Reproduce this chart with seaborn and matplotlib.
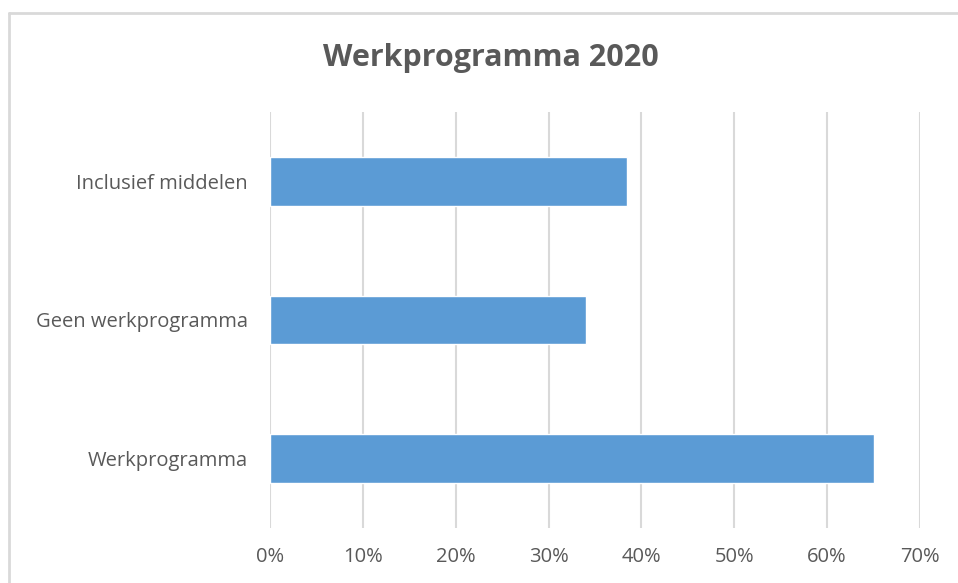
import matplotlib
matplotlib.use("Agg")
import matplotlib.pyplot as plt
import seaborn as sns
import pandas as pd
from matplotlib.lines import Line2D
from matplotlib.ticker import PercentFormatter

# data
categories = ["Inclusief middelen", "Geen werkprogramma", "Werkprogramma"]
values = [38.4, 34.0, 65.0]
ticks = [0, 10, 20, 30, 40, 50, 60, 70]

df = pd.DataFrame({"categorie": categories, "waarde": values})

sns.set_style("white")
plt.rcParams["font.family"] = ["Open Sans", "DejaVu Sans"]

fig = plt.figure(figsize=(9.58, 5.83), dpi=100)
ax = fig.add_axes([270 / 958, 1 - 528 / 583, 650 / 958, 416 / 583])

sns.barplot(data=df, x="waarde", y="categorie", color="#5B9BD5", saturation=1,
            width=0.35, ax=ax, zorder=3)

ax.set_xlim(0, 70)
ax.set_ylim(2.5, -0.5)
ax.set_xticks(ticks)
ax.xaxis.set_major_formatter(PercentFormatter(decimals=0))
ax.grid(axis="x", color="#D9D9D9", linewidth=1.5, zorder=0)
ax.set_xlabel("")
ax.set_ylabel("")
for s in ax.spines.values():
    s.set_visible(False)
ax.tick_params(axis="both", length=0, labelsize=14.5, colors="#595959")
ax.tick_params(axis="x", pad=14)
ax.tick_params(axis="y", pad=16)

fig.text(491 / 958, 1 - 58 / 583, "Werkprogramma 2020", ha="center", va="center",
         fontsize=22, fontweight="bold", color="#595959")

# chart area border (top and left edges visible)
fig.add_artist(Line2D([9 / 958, 1.01], [1 - 13 / 583] * 2, color="#D9D9D9",
                      linewidth=2, transform=fig.transFigure))
fig.add_artist(Line2D([9 / 958] * 2, [1 - 13 / 583, -0.01], color="#D9D9D9",
                      linewidth=2, transform=fig.transFigure))

fig.savefig("out.png", dpi=100)
